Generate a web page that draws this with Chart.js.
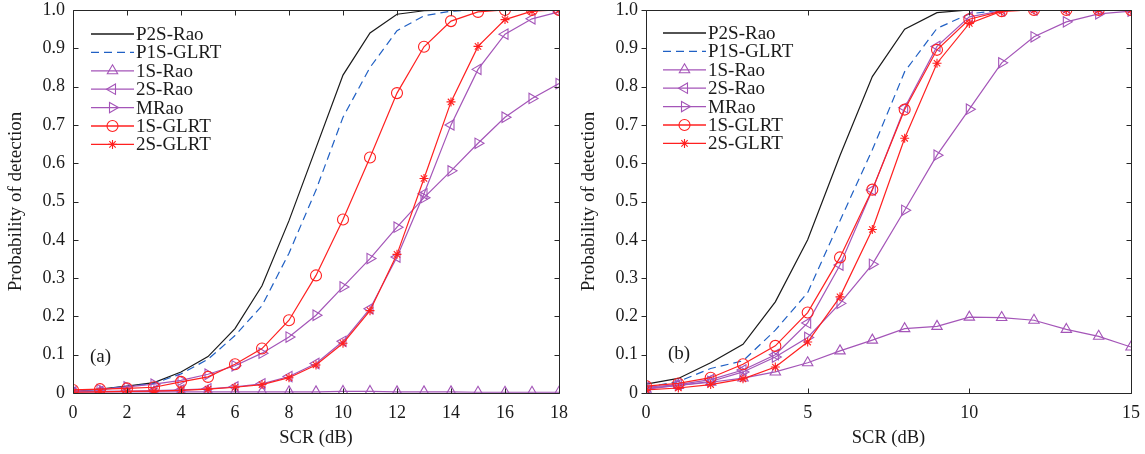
<!DOCTYPE html>
<html>
<head>
<meta charset="utf-8">
<script src="https://cdn.jsdelivr.net/npm/chart.js@4.4.1/dist/chart.umd.min.js"></script>
<style>
  html, body { margin: 0; padding: 0; background: #fff; }
  #wrap { position: relative; width: 1145px; height: 454px; }
  .pane { position: absolute; top: 0; height: 454px; }
  #paneA { left: 0; width: 573px; }
  #paneB { left: 573px; width: 572px; }
</style>
</head>
<body>
<div id="wrap">
  <div class="pane" id="paneA"><canvas id="chartA"></canvas></div>
  <div class="pane" id="paneB"><canvas id="chartB"></canvas></div>
</div>
<script>
// ===== 資料 (a) =====
const scrA = [0,1,2,3,4,5,6,7,8,9,10,11,12,13,14,15,16,17,18];
const p2sRaoA   = [0.005,0.010,0.018,0.027,0.055,0.095,0.168,0.280,0.450,0.640,0.830,0.940,0.989,0.998,1,1,1,1,1];
const p1sGlrtA  = [0.005,0.010,0.017,0.025,0.050,0.088,0.150,0.228,0.365,0.530,0.720,0.850,0.946,0.985,0.997,1,1,1,1];
const oneSRaoA  = [0.003,0.003,0.003,0.003,0.003,0.003,0.003,0.003,0.003,0.003,0.004,0.004,0.003,0.003,0.003,0.002,0.002,0.002,0.002];
const twoSRaoA  = [0.003,0.004,0.005,0.006,0.008,0.011,0.016,0.024,0.043,0.077,0.135,0.220,0.355,0.520,0.700,0.845,0.937,0.977,0.995];
const mRaoA     = [0.006,0.009,0.016,0.023,0.033,0.049,0.071,0.104,0.146,0.203,0.277,0.351,0.433,0.510,0.580,0.652,0.720,0.769,0.808];
const oneSGlrtA = [0.008,0.010,0.012,0.015,0.029,0.042,0.075,0.116,0.190,0.307,0.453,0.615,0.783,0.904,0.971,0.995,1,1,1];
const twoSGlrtA = [0.002,0.003,0.004,0.005,0.007,0.010,0.015,0.022,0.040,0.073,0.130,0.215,0.362,0.560,0.760,0.905,0.975,0.997,1];

// ===== 資料 (b) =====
const scrB = [0,1,2,3,4,5,6,7,8,9,10,11,12,13,14,15];
const p2sRaoB   = [0.023,0.038,0.079,0.127,0.238,0.400,0.620,0.826,0.950,0.993,1,1,1,1,1,1];
const p1sGlrtB  = [0.015,0.030,0.064,0.084,0.164,0.262,0.450,0.635,0.839,0.952,0.990,1,1,1,1,1];
const oneSRaoB  = [0.010,0.020,0.028,0.039,0.055,0.079,0.110,0.138,0.168,0.174,0.198,0.197,0.190,0.166,0.148,0.120];
const twoSRaoB  = [0.015,0.022,0.035,0.060,0.100,0.183,0.334,0.530,0.745,0.905,0.982,0.998,1,1,1,1];
const mRaoB     = [0.012,0.020,0.030,0.055,0.094,0.145,0.234,0.336,0.477,0.621,0.741,0.862,0.930,0.969,0.990,0.997];
const oneSGlrtB = [0.018,0.025,0.040,0.075,0.123,0.210,0.354,0.531,0.740,0.896,0.976,0.997,1,1,1,1];
const twoSGlrtB = [0.008,0.013,0.022,0.037,0.068,0.133,0.251,0.427,0.665,0.861,0.965,0.997,1,1,1,1];

const seriesNames = ["P2S-Rao", "P1S-GLRT", "1S-Rao", "2S-Rao", "MRao", "1S-GLRT", "2S-GLRT"];
const yTicks = [0,0.1,0.2,0.3,0.4,0.5,0.6,0.7,0.8,0.9,1.0];

// ===== 樣式 =====
const BLACK = "#1a1a1a";
const BLUE = "#2060c4";
const PURPLE = "#a455b8";
const RED = "#ff2020";
const FONT = "'Liberation Serif', 'Times New Roman', serif";

const styles = [
  { color: BLACK,  dash: [],     point: false, radius: 0 },
  { color: BLUE,   dash: [8, 5], point: false, radius: 0 },
  { color: PURPLE, dash: [],     point: "triangle", rotation: 0,   radius: 6 },
  { color: PURPLE, dash: [],     point: "triangle", rotation: -90, radius: 6 },
  { color: PURPLE, dash: [],     point: "triangle", rotation: 90,  radius: 6 },
  { color: RED,    dash: [],     point: "circle",   rotation: 0,   radius: 5.5 },
  { color: RED,    dash: [],     point: "star",     rotation: 0,   radius: 4.5 }
];

function toPoints(xs, ys) {
  return xs.map((x, i) => ({ x: x, y: ys[i] }));
}

function buildDatasets(xs, list) {
  return list.map((ys, i) => {
    const s = styles[i];
    return {
      label: seriesNames[i],
      data: toPoints(xs, ys),
      borderColor: s.color,
      borderWidth: 1.2,
      borderDash: s.dash,
      pointStyle: s.point,
      pointRotation: s.rotation || 0,
      pointRadius: s.radius,
      pointBorderColor: s.color,
      pointBackgroundColor: "rgba(0,0,0,0)",
      pointBorderWidth: 1.1,
      tension: 0,
      fill: false,
      order: 6 - i
    };
  });
}

// ===== 外框、刻度、圖例 =====
const boxPlugin = {
  id: "boxPlugin",
  afterDraw(chart, args, opts) {
    const { ctx, chartArea: a, scales } = chart;
    const L = Math.round(a.left) + 0.5, R = Math.round(a.right) + 0.5;
    const T = Math.round(a.top) + 0.5, B = Math.round(a.bottom) + 0.5;
    const tl = 5;
    ctx.save();
    ctx.strokeStyle = "#262626";
    ctx.lineWidth = 1;
    ctx.setLineDash([]);
    ctx.beginPath();
    ctx.rect(L, T, R - L, B - T);
    scales.x.ticks.forEach(t => {
      const px = Math.round(scales.x.getPixelForValue(t.value)) + 0.5;
      ctx.moveTo(px, B); ctx.lineTo(px, B - tl);
      ctx.moveTo(px, T); ctx.lineTo(px, T + tl);
    });
    scales.y.ticks.forEach(t => {
      const py = Math.round(scales.y.getPixelForValue(t.value)) + 0.5;
      if (opts.leftOut) { ctx.moveTo(L, py); ctx.lineTo(L - tl, py); }
      else { ctx.moveTo(L, py); ctx.lineTo(L + tl, py); }
      ctx.moveTo(R, py); ctx.lineTo(R - tl, py);
    });
    ctx.stroke();

    // 圖例
    ctx.font = "19px " + FONT;
    ctx.textBaseline = "middle";
    ctx.fillStyle = "#1a1a1a";
    const lx = a.left + opts.legendX;
    chart.data.datasets.forEach((ds, i) => {
      const s = styles[i];
      const y = a.top + opts.legendY + i * 18.4;
      ctx.save();
      ctx.strokeStyle = s.color;
      ctx.lineWidth = 1.3;
      ctx.setLineDash(s.dash);
      ctx.beginPath();
      ctx.moveTo(lx, y); ctx.lineTo(lx + 43, y);
      ctx.stroke();
      ctx.setLineDash([]);
      if (s.point && Chart.helpers && Chart.helpers.drawPoint) {
        ctx.fillStyle = "rgba(0,0,0,0)";
        ctx.lineWidth = 1.1;
        Chart.helpers.drawPoint(ctx, {
          pointStyle: s.point, rotation: s.rotation || 0,
          radius: s.radius, borderWidth: 1.1
        }, lx + 21.5, y);
      }
      ctx.restore();
      ctx.fillText(ds.label, lx + 45, y + 1);
    });

    // (a)/(b)
    ctx.font = "19px " + FONT;
    ctx.fillText(opts.tag, a.left + opts.tagX, a.bottom - opts.tagY);
    ctx.restore();
  }
};

function makeChart(id, xs, list, xMax, xStep, opts) {
  return new Chart(document.getElementById(id), {
    type: "line",
    data: { datasets: buildDatasets(xs, list) },
    options: {
      responsive: true,
      maintainAspectRatio: false,
      animation: false,
      layout: { padding: { top: 10, right: 14, left: 0, bottom: 0 } },
      plugins: {
        legend: { display: false },
        tooltip: { enabled: false },
        boxPlugin: opts
      },
      scales: {
        x: {
          type: "linear",
          min: 0, max: xMax,
          afterBuildTicks: s => { s.ticks = xs.filter(v => v % xStep === 0).map(v => ({ value: v })); },
          afterFit: s => { s.height = 61; s.paddingLeft = 0; s.paddingRight = 0; },
          grid: { display: false, drawTicks: false },
          border: { display: false },
          ticks: { color: "#1a1a1a", font: { family: FONT, size: 18 }, padding: 9, maxRotation: 0 },
          title: { display: true, text: "SCR (dB)", color: "#1a1a1a",
                   font: { family: FONT, size: 18.5 }, padding: { top: 0, bottom: 5 } }
        },
        y: {
          min: 0, max: 1,
          afterBuildTicks: s => { s.ticks = yTicks.map(v => ({ value: v })); },
          afterFit: s => { s.width = 73; s.paddingTop = 0; s.paddingBottom = 0; },
          grid: { display: false, drawTicks: false },
          border: { display: false },
          ticks: { color: "#1a1a1a", font: { family: FONT, size: 18 }, padding: 8,
                   callback: v => (v === 0 ? "0" : v.toFixed(1)) },
          title: { display: true, text: "Probability of detection", color: "#1a1a1a",
                   font: { family: FONT, size: 19 }, padding: { top: 5, bottom: 0 } }
        }
      }
    },
    plugins: [boxPlugin]
  });
}

makeChart("chartA", scrA,
  [p2sRaoA, p1sGlrtA, oneSRaoA, twoSRaoA, mRaoA, oneSGlrtA, twoSGlrtA],
  18, 2, { legendX: 18, legendY: 24, tag: "(a)", tagX: 17, tagY: 36, leftOut: false });

makeChart("chartB", scrB,
  [p2sRaoB, p1sGlrtB, oneSRaoB, twoSRaoB, mRaoB, oneSGlrtB, twoSGlrtB],
  15, 5, { legendX: 17, legendY: 23, tag: "(b)", tagX: 22, tagY: 39, leftOut: true });
</script>
</body>
</html>
